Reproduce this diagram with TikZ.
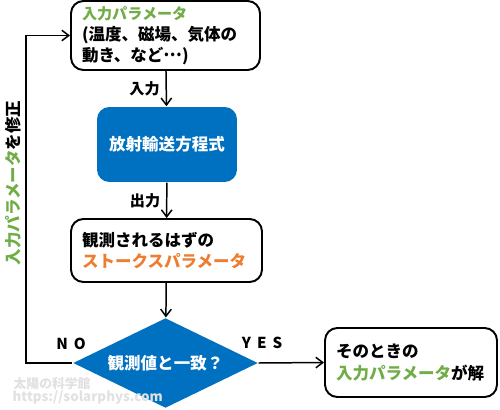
\documentclass[tikz,border=0pt]{standalone}
\usepackage{fontspec}
\setmainfont{Noto Sans CJK JP}
\usetikzlibrary{positioning, shapes.geometric, arrows.meta}
\definecolor{ParamGreen}{RGB}{112, 173, 71}
\definecolor{StokesOrange}{RGB}{237, 125, 49}
\definecolor{FlowBlue}{RGB}{0, 112, 192}
\definecolor{MarkGray}{RGB}{225, 225, 225}

\begin{document}
\begin{tikzpicture}[x=0.02cm, y=-0.02cm,
    font=\fontsize{9.4}{12}\selectfont\bfseries,
    every path/.style={line width=0.85pt},
    flow/.style={-{Straight Barb[length=4pt, width=6pt]}},
    textbox/.style={draw, line width=1.1pt, rounded corners=7pt, align=left,
      inner xsep=0.22cm, inner ysep=0pt},
    bluebox/.style={fill=FlowBlue, text=white, rounded corners=7pt},
    decision/.style={diamond, aspect=2, fill=FlowBlue, text=white, inner sep=0pt,
      minimum width=3.7cm, minimum height=1.8cm},
    lbl/.style={font=\fontsize{8.6}{10}\selectfont\bfseries},
    spaced/.style={font=\fontsize{8.6}{10}\selectfont\bfseries\addfontfeatures{LetterSpace=40}}]
    \useasboundingbox (0,0) rectangle (500,409);

    % main column
    \node[textbox, text width=3.34cm, minimum height=1.38cm] (params) at (165.5,35.5)
      {{\fontsize{8.6}{12}\selectfont\color{ParamGreen}入力パラメータ}\\
       (温度、磁場、気体の\\動き、など\raisebox{0.3em}{…})};
    \node[bluebox, minimum width=2.8cm, minimum height=1.5cm] (rte) at (167,144.5) {放射輸送方程式};
    \node[textbox, text width=3.38cm, minimum height=1.26cm] (obs) at (166.5,250.5)
      {観測されるはずの\\{\color{StokesOrange}ストークスパラメータ}};
    \node[decision] (match) at (165.5,363) {観測値と一致？};
    \node[textbox, text width=3.0cm, minimum height=1.38cm] (result) at (411,362.5)
      {そのときの\\{\color{ParamGreen}入力パラメータ}が解};

    \draw[flow] (params) -- node[lbl, left] (inlbl) {入力} (rte);
    \draw[flow] (rte) -- node[lbl, left] (outlbl) {出力} (obs);
    \draw[flow] (obs) -- (match);
    \draw[flow] (match.east) -- (result.west);
    \node[spaced] (yes) at (262,343) {YES};

    % feedback loop
    \coordinate (corner) at (26,0);
    \draw[flow] (match.west) -| (corner |- params.west) -- (params.west);
    \node[spaced] (no) at (71,344) {NO};
    \node[rotate=90] (fix) at (13,183) {{\color{ParamGreen}入力パラメータ}を修正};

    % watermark
    \node[MarkGray, anchor=west, font=\fontsize{7.3}{9}\selectfont\bfseries] (mark) at (7,384) {太陽の科学館};
    \node[MarkGray, anchor=west, font=\fontsize{7.6}{9}\selectfont\bfseries] (url) at (6,398) {https://solarphys.com};
\end{tikzpicture}
\end{document}
